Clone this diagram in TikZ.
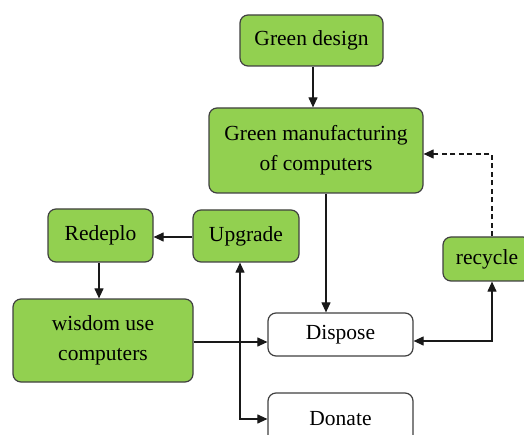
\documentclass[tikz,border=0pt]{standalone}
\usepackage{fontspec}
\setmainfont{Liberation Serif}
\usetikzlibrary{arrows.meta}
\definecolor{leaf}{HTML}{92D050}
\definecolor{edge}{HTML}{404040}
\begin{document}
\begin{tikzpicture}[x=1pt,y=-1pt,
  box/.style={draw=edge,line width=1.2pt,rounded corners=8pt,align=center,
    inner sep=0pt,font=\fontsize{21.5}{30}\selectfont},
  greenbox/.style={box,fill=leaf},
  whitebox/.style={box,fill=white},
  link/.style={line width=1.1pt,draw=black!90},
  tip/.style={-{Triangle[length=10pt,width=9pt]}},
  tips/.style={{Triangle[length=10pt,width=9pt]}-{Triangle[length=10pt,width=9pt]}}]
\useasboundingbox (0,0) rectangle (524,435);
\begin{scope}
\clip (0,0) rectangle (524,435);

% boxes
\node[greenbox,minimum width=143pt,minimum height=51pt] (gd) at (311.5,40.5) {Green design};
\node[greenbox,minimum width=214pt,minimum height=85pt] (gm) at (316,150.5) {Green manufacturing\\of computers};
\node[greenbox,minimum width=106pt,minimum height=52pt] (up) at (246,236) {Upgrade};
\node[greenbox,minimum width=105pt,minimum height=53pt] (rd) at (100.5,235.5) {Redeplo};
\node[greenbox,minimum width=180pt,minimum height=83pt] (wu) at (103,340.5) {wisdom use\\computers};
\node[whitebox,minimum width=145pt,minimum height=43pt] (dp) at (340.5,334.5) {\raisebox{-2pt}{Dispose}};
\node[whitebox,minimum width=145pt,minimum height=52pt] (dn) at (340.5,419) {Donate};
\node[greenbox,minimum width=88pt,minimum height=44pt] (rc) at (487,259) {recycle};

% connectors
\coordinate (gdout) at ([xshift=1.5pt]gd.south);
\draw[link,tip] (gdout) -- (gdout |- gm.north);
\coordinate (gmout) at ([xshift=10pt]gm.south);
\draw[link,tip] (gmout) -- (gmout |- dp.north);
\draw[link,tip] (up.west |- 0,237) -- (rd.east |- 0,237);
\coordinate (rdout) at ([xshift=-1.5pt]rd.south);
\draw[link,tip] (rdout) -- (rdout |- wu.north);
\coordinate (wuout) at (wu.east |- 0,342);
\draw[link,tip] (wuout) -- (wuout -| dp.west);
\coordinate (upin) at ([xshift=-6pt]up.south);
\draw[link,tips] (upin) |- (dn.west);
\coordinate (rcin) at ([xshift=5pt]rc.south);
\draw[link,tips] (rcin) |- (dp.east |- 0,341);
\coordinate (rcout) at ([xshift=5pt]rc.north);
\draw[link,tip,dashed,dash pattern=on 5pt off 3.5pt] (rcout) |- (gm.east |- 0,154);
\end{scope}
\end{tikzpicture}
\end{document}
